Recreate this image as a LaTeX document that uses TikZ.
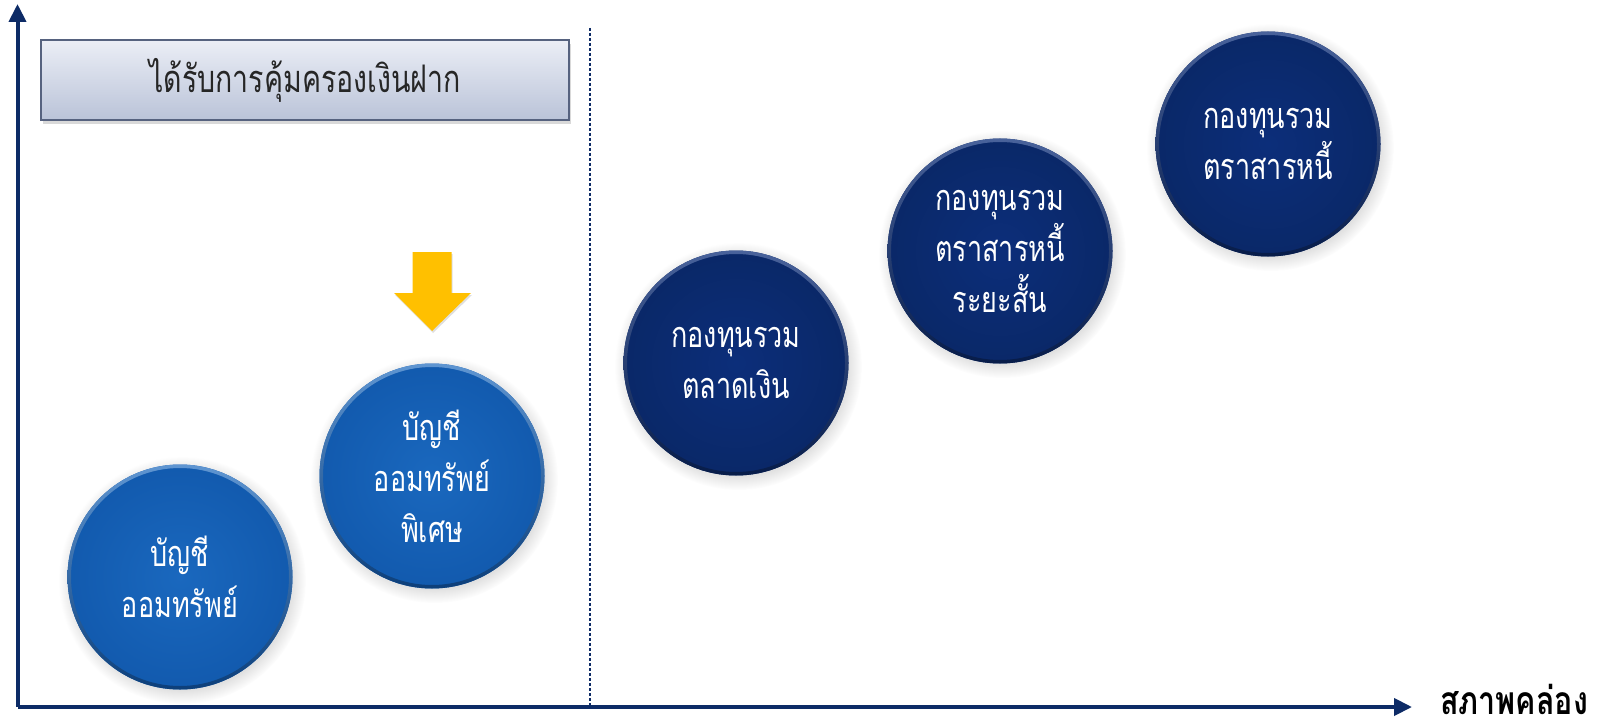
\documentclass[tikz,border=0pt]{standalone}
\usepackage{fontspec}
\newfontfamily\thai[Script=Thai,FakeStretch=0.75]{Loma}
\newfontfamily\thaib[Script=Thai,FakeStretch=0.78]{Loma}
\usetikzlibrary{shadows,arrows.meta}
\definecolor{navy}{HTML}{0D2B66}
\definecolor{lbin}{HTML}{1A68BE}
\definecolor{lbout}{HTML}{125AAE}
\definecolor{dbin}{HTML}{0C2E7A}
\definecolor{dbout}{HTML}{0A2868}
\definecolor{boxtop}{HTML}{EBEEF6}
\definecolor{boxbot}{HTML}{BAC3D8}
\definecolor{boxline}{HTML}{56627F}
\definecolor{arrorange}{HTML}{FFC000}
\begin{document}
\begin{tikzpicture}[x=1pt,y=-1pt,
  bubble/.style={circle, minimum size=225pt, inner sep=0pt, align=center, text=white,
    font=\thai\fontsize{36}{51}\selectfont,
    circular drop shadow={shadow xshift=2pt, shadow yshift=-3pt, opacity=0.3}},
  lightb/.style={bubble, inner color=lbin, outer color=lbout},
  darkb/.style={bubble, inner color=dbin, outer color=dbout},
  lightrim/.style={even odd rule, top color=lbin!70!white, bottom color=lbout!70!black},
  darkrim/.style={even odd rule, top color=dbin!75!white, bottom color=dbout!70!black},
  axis/.style={navy, line width=4pt, -{Triangle[length=18pt,width=17pt]}}
]
\useasboundingbox (0,0) rectangle (1605,722);
% axes
\coordinate (O) at (17.5,707);
\coordinate (Ytop) at (17.5,4);
\coordinate (Xend) at (1412,707);
\coordinate (Dtop) at (590,28);
\coordinate (Dbot) at (590,707);
\draw[navy, line width=1.2pt, dash pattern=on 3pt off 2pt] (Dtop) -- (Dbot);
\draw[axis] (O) -- (Ytop);
\draw[axis] (O) -- (Xend);
\node[anchor=base west, font=\thaib\bfseries\fontsize{39}{40}\selectfont, inner sep=0pt] (xl) at (1440,714) {สภาพคล่อง};
% header box
\node[draw=boxline, line width=1.5pt, top color=boxtop, bottom color=boxbot,
  minimum width=528pt, minimum height=80pt, inner sep=0pt,
  text=black!85, font=\thai\fontsize{38}{40}\selectfont,
  drop shadow={shadow xshift=2pt, shadow yshift=-4pt, opacity=0.3}] (hdr) at (305,80) {ได้รับการคุ้มครองเงินฝาก};
% yellow arrow
\shade[top color=arrorange, middle color=yellow, bottom color=arrorange,
  drop shadow={shadow xshift=1pt, shadow yshift=-2pt, opacity=0.25}]
  (412.5,252) -- (451.5,252) -- (451.5,293) -- (471,293) -- (432,331) -- (394,293) -- (412.5,293) -- cycle;
% bubbles
\node[lightb] (c1) at (180,577) {บัญชี\\ออมทรัพย์};
\node[lightb] (c2) at (432,476) {บัญชี\\ออมทรัพย์\\พิเศษ};
\node[darkb] (c3) at (736,363) {กองทุนรวม\\ตลาดเงิน};
\node[darkb] (c4) at (1000,251) {กองทุนรวม\\ตราสารหนี้\\ระยะสั้น};
\node[darkb] (c5) at (1268,144) {กองทุนรวม\\ตราสารหนี้};
% bevel rims
\foreach \c in {c1,c2}{\shade[lightrim] (\c.center) circle[radius=112.5] (\c.center) circle[radius=109];}
\foreach \c in {c3,c4,c5}{\shade[darkrim] (\c.center) circle[radius=112.5] (\c.center) circle[radius=109];}
\end{tikzpicture}
\end{document}
